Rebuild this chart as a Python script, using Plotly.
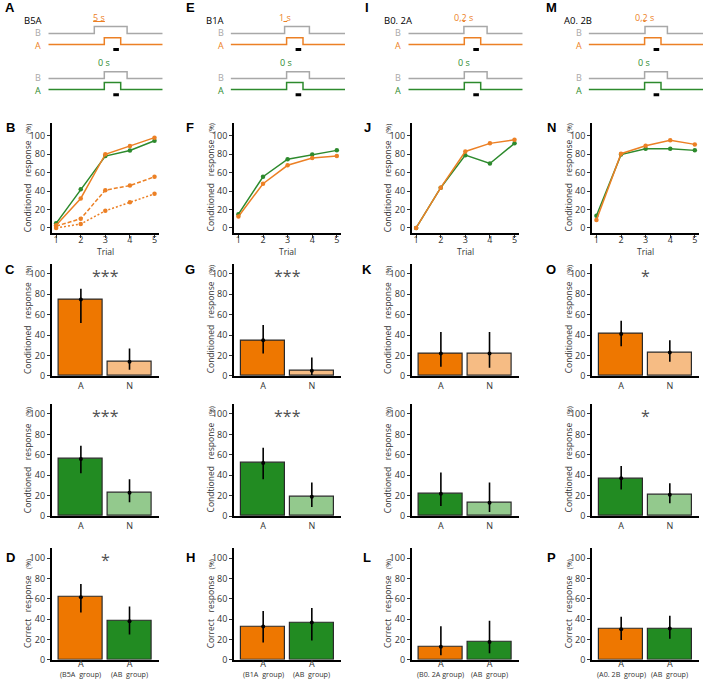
import plotly.graph_objects as go

W, H = 708, 685

# ---------------- data ----------------
panel_letters = [["A", "B", "C", "D"], ["E", "F", "G", "H"],
                 ["I", "J", "K", "L"], ["M", "N", "O", "P"]]
conditions = ["B5A", "B1A", "B0. 2A", "A0. 2B"]
interval_labels = ["5 s", "1 s", "0,2 s", "0,2 s"]
control_interval_label = "0 s"
b_onset_s = [-5, -1, -0.2, 0.2]      # onset of B relative to A (s)
control_b_onset_s = 0
a_duration_s = 8.2
b_after_a_s = 3.2
us_window_s = [4.5, 7.3]

trials = [1, 2, 3, 4, 5]
trial_orange = [[3, 32, 80, 89, 98],
                [12.5, 48, 68, 76, 78],
                [0, 43.7, 83, 91.8, 95.7],
                [8.6, 80.6, 89.3, 95.3, 90.7]]
trial_green = [[5, 42, 78, 84, 94.6],
               [15, 55.6, 74.6, 79.6, 84.2],
               [0, 43.7, 79, 70, 91.8],
               [13.3, 79.6, 86, 86, 84.2]]
b5a_dashed = [2, 10, 41, 46, 55.5]
b5a_dotted = [0, 4.3, 18.6, 28, 37]

bar_categories = ["A", "N"]
cr_orange = [[75, 14], [35, 5], [22, 22], [41, 23]]
cr_orange_lo = [[52, 6], [22, 1], [9, 8], [29, 14]]
cr_orange_hi = [[85.5, 27], [50, 18], [43, 43], [54, 35]]
cr_green = [[56, 23], [52, 19], [22, 13], [37, 21]]
cr_green_lo = [[42, 13.5], [36, 9], [10, 4], [26, 12.6]]
cr_green_hi = [[69, 36], [67, 33], [42.6, 33], [49, 32.3]]
correct = [[61.5, 38], [32.7, 36.6], [13, 17.5], [30, 30.7]]
correct_lo = [[46.6, 25], [17, 19], [4.5, 6.5], [19.4, 20.7]]
correct_hi = [[74.5, 52.4], [48, 51], [33, 38.5], [42.4, 43.4]]
correct_ticks = ["A", "A"]
group_labels = [["(B5A\u00a0 group)", "(AB\u00a0 group)"],
                ["(B1A\u00a0 group)", "(AB\u00a0 group)"],
                ["(B0. 2A group)", "(AB\u00a0 group)"],
                ["(A0. 2B\u00a0 group)", "(AB\u00a0 group)"]]
sig_cr_orange = ["***", "***", "", "*"]
sig_cr_green = ["***", "***", "", "*"]
sig_correct = ["*", "", "", ""]

yticks = [0, 20, 40, 60, 80, 100]

# ---------------- style / layout constants ----------------
ORANGE = "#EE7700"
ORANGE_L = "#F6BC84"
GREEN = "#228B22"
GREEN_L = "#93C98D"
LINE_OR = "#EC8025"
LINE_GR = "#2D8A2D"
GRAY = "#A8A8A8"
TXT = "#333333"
FONT = "Open Sans"

col_left = [51.7, 234, 411.7, 592]
col_w = 107
row_diag = (8, 100)
row_line = (124, 235)
row_bar1 = (266, 379.3)
row_bar2 = (407.3, 520.7)
row_bar3 = (552.7, 665.7)


def xd(a, b):
    return [a / W, b / W]


def yd(top, bot):
    return [1 - bot / H, 1 - top / H]


def py(v):
    return 1 - v / H


layout = {}
traces = []
annots = []
counter = [0]


def add_axes(xdom, ydom, xa, ya):
    counter[0] += 1
    n = counter[0]
    s = "" if n == 1 else str(n)
    layout["xaxis" + s] = dict(xa, domain=xdom, anchor="y" + s)
    layout["yaxis" + s] = dict(ya, domain=ydom, anchor="x" + s)
    return "x" + s, "y" + s


TICKFONT = dict(family=FONT, size=9, color=TXT)


def yaxis_style(rng):
    return dict(range=rng, showline=True, linecolor="black", linewidth=1.7,
                ticks="outside", ticklen=3, tickwidth=1, tickcolor=TXT,
                tickvals=yticks, tickfont=TICKFONT, showgrid=False,
                zeroline=False, fixedrange=True)


def ytitle(col, row, words, gap):
    sep = "\u00a0" * gap
    txt = sep.join(words) + sep + "<span style='font-size:7px'>(%)</span>"
    annots.append(dict(text=txt, textangle=-90, xref="paper", yref="paper",
                       x=(col_left[col] - 23.5) / W,
                       y=py((row[0] + row[1]) / 2), showarrow=False,
                       xanchor="center", yanchor="middle",
                       font=dict(family=FONT, size=8.5, color=TXT)))


def letter(txt, x, y):
    annots.append(dict(text="<b>%s</b>" % txt, xref="paper", yref="paper",
                       x=x / W, y=py(y), showarrow=False, xanchor="center",
                       yanchor="middle",
                       font=dict(family="Liberation Sans", size=13, color="black")))


letter_x = [10, 190, 367, 551]
letter_y = [8, 129, 272, 562]

for c in range(4):
    L = col_left[c]
    # ---------- diagram ----------
    xr = [-28, 29.2]
    xa, ya = add_axes(xd(L - 3.4, L + 111), yd(*row_diag),
                      dict(range=xr, visible=False, fixedrange=True),
                      dict(range=[row_diag[1], row_diag[0]], visible=False,
                           fixedrange=True))
    rows_spec = [(b_onset_s[c], interval_labels[c], LINE_OR, 33.7, 45.0, 50.0, 17.5),
                 (control_b_onset_s, control_interval_label, LINE_GR, 79.3, 90.3, 95.5, 63.0)]
    for (bon, lab, acol, bbase, abase, dashy, texty) in rows_spec:
        step = 7
        a_off = a_duration_s
        b_off = a_off + b_after_a_s
        traces.append(go.Scatter(x=[xr[0], bon, bon, b_off, b_off, xr[1]],
                                 y=[bbase, bbase, bbase - step, bbase - step, bbase, bbase],
                                 mode="lines", line=dict(color=GRAY, width=1.5),
                                 xaxis=xa, yaxis=ya, hoverinfo="skip"))
        traces.append(go.Scatter(x=[xr[0], 0, 0, a_off, a_off, xr[1]],
                                 y=[abase, abase, abase - step, abase - step, abase, abase],
                                 mode="lines", line=dict(color=acol, width=1.5),
                                 xaxis=xa, yaxis=ya, hoverinfo="skip"))
        traces.append(go.Scatter(x=us_window_s, y=[dashy, dashy], mode="lines",
                                 line=dict(color="black", width=3),
                                 xaxis=xa, yaxis=ya, hoverinfo="skip"))
        if bon != 0:
            traces.append(go.Scatter(x=[min(bon, 0) - 0.6, max(bon, 0) + 0.3],
                                     y=[texty + 4.2, texty + 4.2], mode="lines",
                                     line=dict(color=acol, width=1),
                                     xaxis=xa, yaxis=ya, hoverinfo="skip"))
        annots.append(dict(text=lab, x=bon / 2 - 0.3, y=texty, xref=xa, yref=ya,
                           showarrow=False, xanchor="center", yanchor="middle",
                           font=dict(family=FONT, size=9, color=acol)))
        annots.append(dict(text="B", x=(L - 3.4 - 5) / W, y=bbase - 1.2, xref="paper",
                           yref=ya, showarrow=False, xanchor="right", yanchor="middle",
                           font=dict(family=FONT, size=9, color=GRAY)))
        annots.append(dict(text="A", x=(L - 3.4 - 5) / W, y=abase + 1.2, xref="paper",
                           yref=ya, showarrow=False, xanchor="right", yanchor="middle",
                           font=dict(family=FONT, size=9, color=acol)))
    annots.append(dict(text=conditions[c], x=(L - 29.7) / W, y=21, xref="paper",
                       yref=ya, showarrow=False, xanchor="left", yanchor="middle",
                       font=dict(family=FONT, size=9.5, color="black")))

    # ---------- line chart ----------
    xa, ya = add_axes(xd(L, L + col_w), yd(*row_line),
                      dict(range=[0.82, 5.17], showline=True, linecolor="black",
                           linewidth=1.7, ticks="outside", ticklen=3, tickcolor=TXT,
                           ticklabelstandoff=-6,
                           tickvals=trials, tickfont=TICKFONT, showgrid=False,
                           zeroline=False, fixedrange=True),
                      yaxis_style([-5.4, 114]))
    series = [(trial_green[c], LINE_GR, "solid"), (trial_orange[c], LINE_OR, "solid")]
    if c == 0:
        series = [(b5a_dotted, LINE_OR, "2px,2px"), (b5a_dashed, LINE_OR, "4px,2px")] + series
    for vals, col, dash in series:
        traces.append(go.Scatter(x=trials, y=vals, mode="lines+markers",
                                 line=dict(color=col, width=1.5, dash=dash),
                                 marker=dict(color=col, size=4.5),
                                 xaxis=xa, yaxis=ya, hoverinfo="skip"))
    annots.append(dict(text="Trial", x=(L + col_w / 2) / W, y=py(253.5), xref="paper",
                       yref="paper", showarrow=False, xanchor="center", yanchor="middle",
                       font=dict(family=FONT, size=8.5, color=TXT)))
    ytitle(c, row_line, ["Conditioned", "response"], 3)

    # ---------- bar charts ----------
    bar_rows = [
        (row_bar1, cr_orange[c], cr_orange_lo[c], cr_orange_hi[c], [ORANGE, ORANGE_L],
         bar_categories, sig_cr_orange[c], ["Conditioned", "response"], None),
        (row_bar2, cr_green[c], cr_green_lo[c], cr_green_hi[c], [GREEN, GREEN_L],
         bar_categories, sig_cr_green[c], ["Condtioned", "response"], None),
        (row_bar3, correct[c], correct_lo[c], correct_hi[c], [ORANGE, GREEN],
         correct_ticks, sig_correct[c], ["Correct", "response"], group_labels[c]),
    ]
    for (rw, vals, lo, hi, cols, ticks_txt, sig, words, groups) in bar_rows:
        xs = list(range(len(vals)))
        xa, ya = add_axes(xd(L, L + col_w), yd(*rw),
                          dict(range=[-0.6, 1.6], showline=True, linecolor="black",
                               linewidth=1.7, ticks="", tickvals=xs, ticktext=ticks_txt,
                               ticklabelstandoff=(-6 if groups else 0),
                               tickfont=TICKFONT, showgrid=False, zeroline=False,
                               fixedrange=True),
                          yaxis_style([0, 110]))
        traces.append(go.Bar(x=xs, y=vals, width=0.9,
                             marker=dict(color=cols, line=dict(color="#2a2a2a", width=1.2)),
                             error_y=dict(type="data", symmetric=False,
                                          array=[h - v for h, v in zip(hi, vals)],
                                          arrayminus=[v - l for v, l in zip(vals, lo)],
                                          color="black", thickness=1.6, width=0),
                             xaxis=xa, yaxis=ya, hoverinfo="skip"))
        traces.append(go.Scatter(x=xs, y=vals, mode="markers",
                                 marker=dict(color="black", size=4),
                                 xaxis=xa, yaxis=ya, hoverinfo="skip"))
        if sig:
            annots.append(dict(text=sig, x=0.5, y=98, xref=xa, yref=ya, showarrow=False,
                               xanchor="center", yanchor="middle",
                               font=dict(family=FONT, size=16, color="#505050")))
        if groups:
            for xi, g in zip(xs, groups):
                annots.append(dict(text=g, x=xi, y=py(680.3), xref=xa, yref="paper",
                                   showarrow=False, xanchor="center", yanchor="middle",
                                   font=dict(family=FONT, size=7.2, color=TXT)))
        ytitle(c, rw, words, 3)

    for r in range(4):
        letter(panel_letters[c][r], letter_x[c], letter_y[r])

fig = go.Figure(data=traces)
fig.update_layout(**layout)
fig.update_layout(width=W, height=H, margin=dict(l=0, r=0, t=0, b=0),
                  paper_bgcolor="white", plot_bgcolor="white", showlegend=False,
                  annotations=annots, bargap=0)
fig.write_html("out.html", config={"displayModeBar": False},
               post_script="document.body.style.margin='0px';")
